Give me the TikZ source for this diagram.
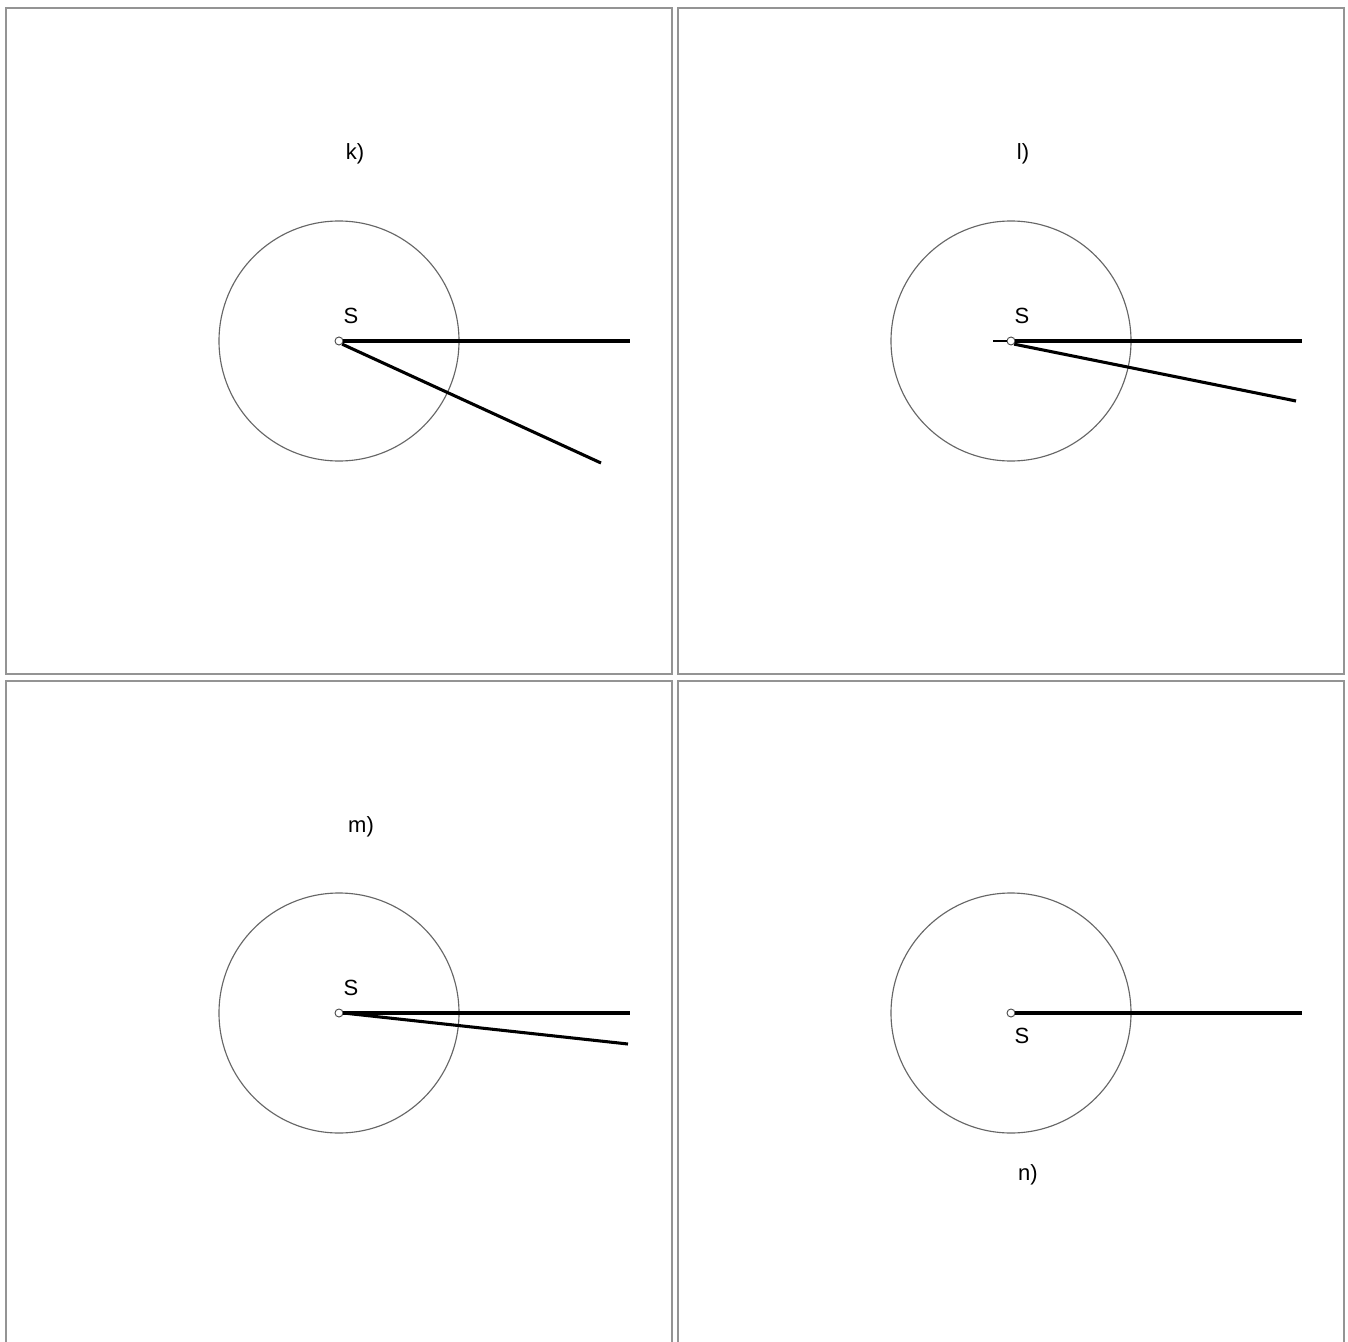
\documentclass[tikz,border=0pt]{standalone}
\usepackage{fontspec}
\setmainfont{Liberation Sans}
\begin{document}
\begin{tikzpicture}[x=0.75pt,y=-0.75pt,
  frame/.style={draw=black!42,line width=1.6pt},
  orbit/.style={draw=black!60,line width=0.85pt},
  ray/.style={draw=black,line width=2.3pt},
  pivot/.style={circle,draw=black!70,fill=white,line width=0.7pt,inner sep=0pt,minimum size=6pt},
  lbl/.style={font=\fontsize{16.5pt}{18pt}\selectfont,inner sep=0pt}]
\useasboundingbox (0,0) rectangle (1348,1341);
\fill[white] (0,0) rectangle (1348,1341);
% frames
\draw[frame] (6,8) rectangle (672,674);
\draw[frame] (678,8) rectangle (1344,674);
\draw[frame] (6,1350) -- (6,681) -- (672,681) -- (672,1350);
\draw[frame] (678,1350) -- (678,681) -- (1344,681) -- (1344,1350);
% panel k
\node[lbl] (tk) at (355,154) {k)};
\draw[orbit] (339,341) circle (120);
\coordinate (ka) at (630,341);
\coordinate (kb) at (601,463);
\node[pivot] (sk) at (339,341) {};
\draw[ray] (sk.east) -- (ka);
\draw[ray] (sk.south east) -- (kb);
\node[lbl] (lk) at (351,316) {S};
% panel l
\node[lbl] (tl) at (1023,154) {l)};
\draw[orbit] (1011,341) circle (120);
\coordinate (la) at (1302,341);
\coordinate (lb) at (1296,401);
\coordinate (lt) at (993,341);
\node[pivot] (sl) at (1011,341) {};
\draw[ray] (sl.east) -- (la);
\draw[ray] (sl.south east) -- (lb);
\draw[line width=0.8pt] (lt) -- (sl.west);
\node[lbl] (ll) at (1022,316) {S};
% panel m
\node[lbl] (tm) at (361,827) {m)};
\draw[orbit] (339,1013) circle (120);
\coordinate (ma) at (630,1013);
\coordinate (mb) at (628,1044);
\node[pivot] (sm) at (339,1013) {};
\draw[ray] (sm.east) -- (ma);
\draw[ray] (sm.east) -- (mb);
\node[lbl] (lm) at (351,988) {S};
% panel n
\draw[orbit] (1011,1013) circle (120);
\coordinate (na) at (1302,1013);
\node[pivot] (sn) at (1011,1013) {};
\draw[ray] (sn.east) -- (na);
\node[lbl] (ln) at (1022,1036) {S};
\node[lbl] (tn) at (1028,1175) {n)};
\end{tikzpicture}
\end{document}
